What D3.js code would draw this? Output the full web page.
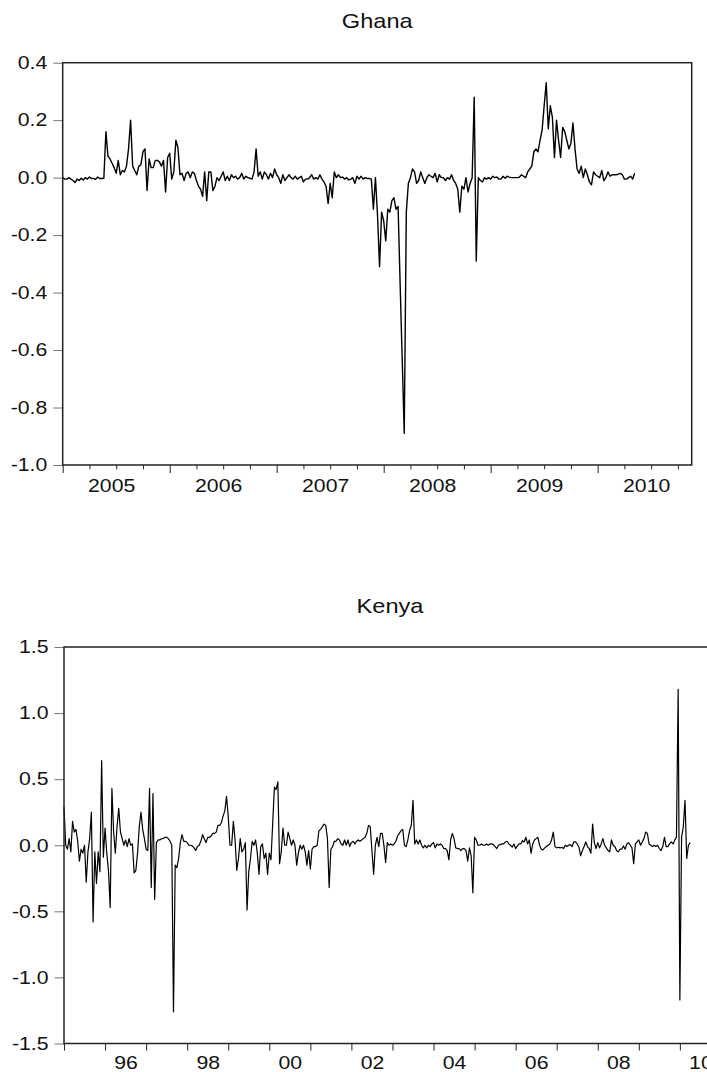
<!DOCTYPE html>
<html lang="en">
<head>
  <meta charset="UTF-8" />
  <title>Ghana and Kenya</title>
  <script src="https://d3js.org/d3.v7.min.js"></script>
  <style>
    body {margin: 0; background: #fff;}
    svg {display: block;}
  </style>
</head>
<body>
<script>
  //****DATA****
  // Ghana, weekly from the start of 2005
  const ghanaStart = 2005;
  const ghanaPerYear = 52;
  const ghanaValues = [
    0.0, -0.005, -0.005, 0.0, -0.005, -0.01, -0.017, -0.005, -0.01, -0.002, -0.008, 0.0, -0.005, 0.002, -0.003, -0.003, -0.006, 0.002, -0.003, -0.003, -0.002,
    0.16, 0.075, 0.065, 0.05, 0.035, 0.015, 0.06, 0.01, 0.025, 0.02, 0.04, 0.1, 0.2, 0.04, 0.025, 0.01, 0.04, 0.045, 0.09, 0.1,
    -0.045, 0.065, 0.035, 0.035, 0.06, 0.06, 0.055, 0.04, 0.06, -0.05, 0.07, 0.085, -0.005, 0.02, 0.13, 0.105, 0.01, 0.015, -0.01, 0.015,
    0.02, 0.0, 0.02, 0.015, -0.01, -0.03, -0.04, -0.065, 0.02, -0.08, 0.02, 0.02, -0.045, -0.03, 0.0, -0.01, 0.005, 0.02, -0.01, 0.005,
    -0.01, 0.01, 0.0, 0.005, -0.005, 0.0, 0.015, -0.005, 0.005, 0.0, -0.002, -0.005, 0.02, 0.1, 0.005, 0.02, -0.005, 0.02, 0.01, -0.005,
    0.015, 0.0, 0.03, 0.01, 0.0, -0.02, 0.01, -0.01, 0.0, 0.01, 0.0, -0.005, 0.005, -0.005, 0.0, 0.005, -0.015, -0.005, -0.005, 0.0,
    0.01, -0.005, 0.0, -0.005, 0.01, -0.005, -0.015, -0.03, -0.09, -0.02, -0.07, 0.02, 0.0, 0.01, 0.0, 0.002, -0.005, 0.0, -0.008, -0.005,
    0.0, -0.02, 0.005, -0.005, 0.005, -0.005, 0.0, -0.003, -0.003, -0.005, -0.11, 0.0, -0.13, -0.31, -0.12, -0.15, -0.22, -0.11, -0.12, -0.08,
    -0.07, -0.11, -0.10, -0.37, -0.63, -0.89, -0.12, -0.02, 0.0, 0.03, 0.02, -0.02, -0.01, 0.02, 0.0, -0.02, 0.0, 0.01, 0.005, 0.0,
    0.015, -0.015, 0.01, 0.0, 0.0, -0.01, 0.0, -0.005, 0.01, -0.01, -0.02, -0.04, -0.12, -0.03, -0.04, 0.0, -0.05, -0.02, 0.0, 0.28,
    -0.29, 0.0, -0.01, -0.015, 0.0, -0.005, 0.0, -0.005, 0.005, 0.0, 0.002, -0.005, -0.005, 0.005, -0.002, 0.005, 0.002, 0.0, 0.0, 0.0,
    0.0, 0.002, 0.01, 0.005, 0.0, 0.02, 0.03, 0.04, 0.09, 0.1, 0.09, 0.13, 0.165, 0.25, 0.33, 0.17, 0.25, 0.21, 0.07, 0.2,
    0.13, 0.07, 0.175, 0.16, 0.13, 0.1, 0.12, 0.19, 0.1, 0.03, 0.015, 0.04, 0.0, 0.03, 0.01, -0.015, -0.025, 0.02, 0.01, 0.005,
    0.0, 0.025, -0.01, 0.0, 0.02, 0.005, 0.01, 0.01, 0.01, 0.012, 0.015, 0.01, -0.005, -0.005, 0.0, 0.005, -0.005, 0.015
  ];
  const ghanaYTicks = [0.4, 0.2, 0.0, -0.2, -0.4, -0.6, -0.8, -1.0];
  const ghanaYears = [2005, 2006, 2007, 2008, 2009, 2010];
  const ghanaLabels = ["2005", "2006", "2007", "2008", "2009", "2010"];

  // Kenya, twice a month from the start of 1995 (one row per year)
  const kenyaStart = 1995;
  const kenyaPerYear = 24;
  const kenyaValues = [
    0.29, 0.0, -0.03, 0.05, -0.05, 0.18, 0.1, 0.12, 0.03, -0.12, -0.03, -0.06, 0.0, -0.28, -0.05, 0.05, 0.25, -0.58, -0.05, -0.29, -0.05, -0.2, 0.64, -0.09,
    0.13, -0.06, -0.19, -0.47, 0.43, 0.1, -0.06, 0.14, 0.28, 0.1, 0.05, 0.0, 0.04, -0.01, 0.05, 0.0, 0.01, -0.21, -0.19, -0.06, 0.14, 0.25, 0.12, 0.05,
    -0.03, -0.04, 0.43, -0.32, 0.39, -0.41, 0.02, 0.04, 0.04, 0.05, 0.05, 0.06, 0.06, 0.05, 0.03, 0.0, -1.26, -0.15, -0.17, -0.1, 0.02, 0.08, 0.03, 0.03,
    0.02, 0.0, 0.0, -0.005, -0.02, -0.04, -0.01, 0.0, 0.03, 0.08, 0.05, 0.02, 0.06, 0.06, 0.07, 0.09, 0.09, 0.1, 0.15, 0.15, 0.17, 0.22, 0.26, 0.37,
    0.22, 0.0, 0.0, 0.18, 0.04, -0.19, -0.1, 0.05, -0.05, -0.03, 0.02, -0.49, -0.2, -0.1, 0.03, 0.0, 0.04, -0.06, -0.22, -0.01, 0.01, -0.1, -0.06, -0.22,
    -0.06, -0.11, 0.17, 0.44, 0.42, 0.48, -0.14, -0.05, 0.13, 0.0, 0.0, 0.1, 0.05, 0.0, 0.04, 0.0, -0.15, -0.06, 0.0, -0.03, 0.0, -0.05, -0.15, -0.04,
    -0.18, -0.03, -0.01, -0.01, 0.0, 0.11, 0.12, 0.14, 0.16, 0.15, 0.05, -0.32, -0.03, -0.01, 0.03, 0.03, 0.05, 0.04, 0.01, 0.0, 0.04, 0.0, 0.04, -0.01,
    0.02, 0.03, 0.01, 0.03, 0.04, 0.03, 0.04, 0.05, 0.06, 0.09, 0.15, 0.14, -0.04, -0.22, 0.0, 0.06, -0.01, 0.09, 0.09, 0.0, -0.13, 0.02, 0.0, 0.01,
    0.0, 0.01, 0.03, 0.07, 0.09, 0.11, 0.12, 0.0, -0.01, 0.04, 0.11, 0.15, 0.34, 0.01, 0.04, 0.01, 0.04, 0.0, -0.02, 0.0, -0.02, 0.0, -0.01, 0.01,
    0.02, -0.02, 0.01, 0.0, 0.01, 0.0, -0.025, -0.025, -0.04, -0.11, 0.04, 0.09, 0.05, -0.02, -0.025, -0.025, -0.04, -0.025, -0.025, -0.04, -0.12, -0.02, -0.08, -0.36,
    0.06, 0.04, 0.0, 0.0, 0.01, 0.0, 0.0, 0.01, 0.0, 0.01, 0.01, 0.005, -0.01, -0.025, 0.0, 0.005, 0.01, 0.01, 0.025, 0.03, 0.01, 0.0, -0.015, 0.01,
    -0.025, -0.005, 0.01, 0.01, 0.035, 0.025, 0.06, 0.01, 0.04, -0.06, 0.01, 0.04, 0.05, 0.06, 0.0, -0.03, -0.035, -0.02, -0.01, 0.0, 0.01, 0.04, 0.1, -0.01,
    -0.02, -0.015, -0.02, -0.015, -0.025, 0.0, -0.01, 0.0, 0.005, -0.01, 0.025, 0.025, 0.01, -0.015, -0.08, -0.04, -0.01, 0.025, -0.01, -0.025, -0.06, 0.16, 0.02, -0.025,
    0.02, -0.02, 0.01, 0.05, 0.0, -0.02, -0.04, -0.05, 0.04, 0.0, -0.01, -0.04, -0.05, -0.03, -0.03, -0.005, -0.03, 0.01, 0.02, 0.0, -0.02, -0.14, 0.01, 0.025,
    0.04, 0.0, 0.025, 0.05, 0.1, 0.09, 0.01, 0.0, -0.01, 0.0, -0.01, 0.0, -0.025, -0.04, -0.01, 0.06, -0.01, -0.01, 0.01, 0.025, 0.01, 0.04, 0.06, 1.18,
    -1.17, 0.06, 0.14, 0.34, -0.1, 0.0, 0.02
  ];
  const kenyaYTicks = [1.5, 1.0, 0.5, 0.0, -0.5, -1.0, -1.5];
  const kenyaYears = d3.range(1995, 2012);
  const kenyaLabelYears = [1996, 1998, 2000, 2002, 2004, 2006, 2008, 2010];
  const kenyaLabels = ["96", "98", "00", "02", "04", "06", "08", "10"];

  //****CREATE THE SVG CANVAS****
  const width = 707;
  const height = 1072;
  const fontFamily = "'Liberation Sans', Arial, sans-serif";
  const stretch = 1.18; // the picture's text is a bit wider than normal

  const svg = d3.select("body")
                .append("svg")
                .attr("width", width)
                .attr("height", height)
                .style("background", "#fff");

  //****ONE PANEL****
  function drawPanel(p) {
    const xScale = d3.scaleLinear().domain(p.xDomain).range([p.left, p.right]);
    const yScale = d3.scaleLinear().domain(p.yDomain).range([p.bottom, p.top]);
    const g = svg.append("g");

    // title
    g.append("text")
     .attr("transform", `translate(${(p.left + p.right) / 2}, ${p.top - 34.5}) scale(${stretch},1)`)
     .attr("text-anchor", "middle")
     .attr("font-family", fontFamily)
     .attr("font-size", 20)
     .attr("fill", "#111")
     .text(p.title);

    // y axis (d3 sets its own font on call, so set ours afterwards)
    const yAxis = g.append("g")
                   .attr("transform", `translate(${p.left}, 0)`)
                   .call(d3.axisLeft(yScale)
                           .tickValues(p.yTicks)
                           .tickSize(9.5)
                           .tickFormat((d) => d.toFixed(1)))
                   .attr("font-family", fontFamily)
                   .attr("font-size", 18);
    yAxis.select(".domain").remove();
    yAxis.selectAll("line").attr("stroke", "#777");
    yAxis.selectAll("text")
         .attr("x", -15.5 / stretch)
         .attr("transform", `scale(${stretch},1)`)
         .attr("fill", "#111");

    // x tick marks
    const ticks = g.append("g")
                   .attr("transform", `translate(0, ${p.bottom})`)
                   .call(d3.axisBottom(xScale)
                           .tickValues(p.majorTicks)
                           .tickSize(p.majorSize)
                           .tickSizeOuter(0)
                           .tickFormat(""));
    ticks.select(".domain").remove();
    ticks.selectAll("line").attr("stroke", "#222");

    if (p.minorTicks) {
      const minor = g.append("g")
                     .attr("transform", `translate(0, ${p.bottom})`)
                     .call(d3.axisBottom(xScale)
                             .tickValues(p.minorTicks)
                             .tickSize(4.3)
                             .tickSizeOuter(0)
                             .tickFormat(""));
      minor.select(".domain").remove();
      minor.selectAll("line").attr("stroke", "#222");
    }

    // x labels, centred inside each year
    const labels = g.append("g")
                    .attr("transform", `translate(0, ${p.bottom})`)
                    .call(d3.axisBottom(xScale)
                            .tickValues(p.labelYears.map((d) => d + p.labelShift))
                            .tickSize(0)
                            .tickPadding(p.labelPad)
                            .tickFormat((d, i) => p.labels[i]))
                    .attr("font-family", fontFamily)
                    .attr("font-size", 18);
    labels.select(".domain").remove();
    labels.selectAll("line").remove();
    labels.selectAll("text")
          .attr("transform", `scale(${stretch},1)`)
          .attr("fill", "#111");

    // series
    const lineGenerator = d3.line()
                            .x((d, i) => xScale(p.start + i / p.perYear))
                            .y((d) => yScale(d));

    g.append("path")
     .datum(p.values)
     .attr("d", lineGenerator)
     .attr("fill", "none")
     .attr("stroke", "#000")
     .attr("stroke-width", p.lineWidth)
     .attr("stroke-linejoin", "round");

    // frame
    g.append("rect")
     .attr("x", p.left)
     .attr("y", p.top)
     .attr("width", p.right - p.left)
     .attr("height", p.bottom - p.top)
     .attr("fill", "none")
     .attr("stroke", "#222")
     .attr("stroke-width", 1.5);
  }

  //****GHANA****
  drawPanel({
    title: "Ghana",
    values: ghanaValues, start: ghanaStart, perYear: ghanaPerYear,
    xDomain: [2005, 2010.879], yDomain: [-1.0, 0.4],
    left: 62.7, right: 691.7, top: 62.7, bottom: 465,
    yTicks: ghanaYTicks,
    majorTicks: ghanaYears, majorSize: 8,
    minorTicks: d3.range(2005, 2011).flatMap((y) => [y + 0.25, y + 0.5, y + 0.75]),
    labelYears: ghanaYears, labels: ghanaLabels, labelShift: 0.453, labelPad: 14.2,
    lineWidth: 1.4
  });

  //****KENYA****
  drawPanel({
    title: "Kenya",
    values: kenyaValues, start: kenyaStart, perYear: kenyaPerYear,
    xDomain: [1995, 2010.88], yDomain: [-1.5, 1.5],
    left: 64, right: 716, top: 647, bottom: 1043.5,
    yTicks: kenyaYTicks,
    majorTicks: kenyaYears, majorSize: 7,
    minorTicks: null,
    labelYears: kenyaLabelYears, labels: kenyaLabels, labelShift: 0.5, labelPad: 12.7,
    lineWidth: 1.2
  });
</script>
</body>
</html>
